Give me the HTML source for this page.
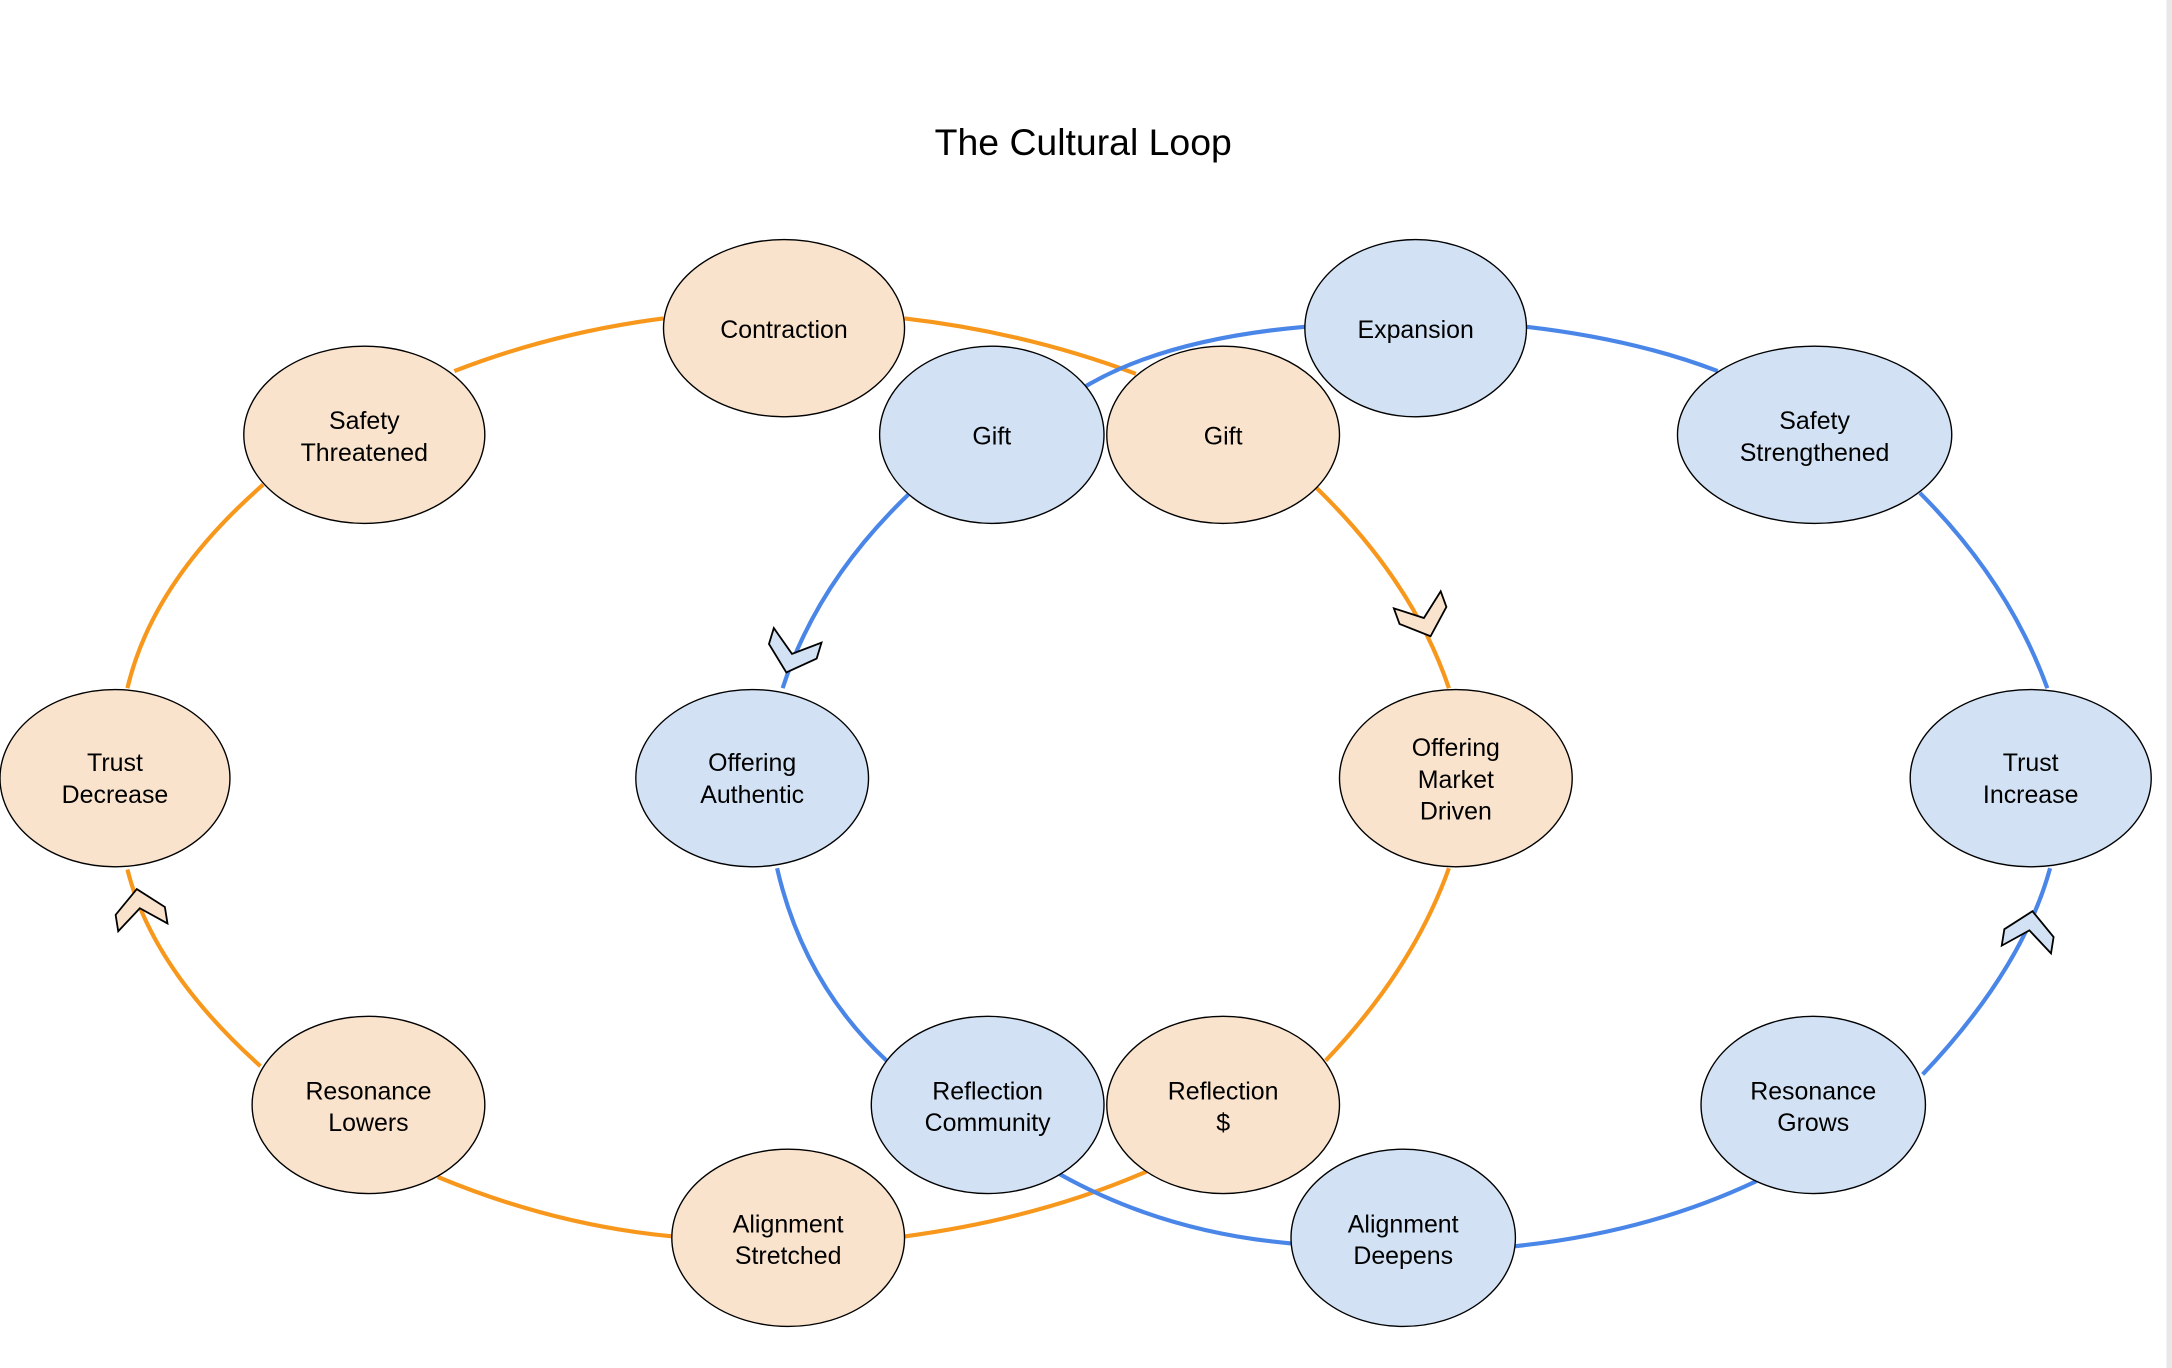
<!DOCTYPE html>
<html><head><meta charset="utf-8"><style>
html,body{margin:0;padding:0;background:#fff;}
svg{display:block;}
text{font-family:"Liberation Sans",sans-serif;fill:#000;}
</style></head><body>
<svg width="2172" height="1368" viewBox="0 0 1568 988" preserveAspectRatio="none" xmlns="http://www.w3.org/2000/svg">
<rect x="1564" y="0" width="4" height="988" fill="#e8e8e8"/>
<text x="782" y="112" font-size="27" text-anchor="middle">The Cultural Loop</text>
<g fill="none" stroke-width="3">
<g stroke="#f7981d">
<path d="M479,230 Q400,240 328,268"/>
<path d="M190,350 Q110,420 92,497"/>
<path d="M188,770 Q110,700 92,628"/>
<path d="M316,850 Q400,885 486,893"/>
<path d="M653,893 Q750,880 828,846"/>
<path d="M957,766 Q1020,700 1046,627"/>
<path d="M950,352 Q1020,420 1046,497"/>
<path d="M653,230 Q740,240 820,270"/>
</g>
<g stroke="#4a86e8">
<path d="M942,236 Q840,245 782,280"/>
<path d="M1102,236 Q1180,245 1240,268"/>
<path d="M1386,356 Q1450,420 1478,497"/>
<path d="M1388,776 Q1460,700 1480,627"/>
<path d="M1094,900 Q1190,890 1268,853"/>
<path d="M765,848 Q840,890 932,898"/>
<path d="M561,627 Q580,710 640,766"/>
<path d="M656,357 Q590,420 565,497"/>
</g>
</g>
<g stroke="#000" stroke-width="1.3" stroke-linejoin="miter">
<polygon points="-18,-20 0,-6 18,-20 18,-8 0,8 -18,-8" fill="#d2e2f4" transform="translate(570,478) rotate(17)"/>
<polygon points="-18,-20 0,-6 18,-20 18,-8 0,8 -18,-8" fill="#fae3cc" transform="translate(1030,452) rotate(-20)"/>
<polygon points="-18,-20 0,-6 18,-20 18,-8 0,8 -18,-8" fill="#fae3cc" transform="translate(100,650) rotate(171)"/>
<polygon points="-18,-20 0,-6 18,-20 18,-8 0,8 -18,-8" fill="#d2e2f4" transform="translate(1466,666) rotate(189)"/>
</g>
<g stroke="#000" stroke-width="1">
<ellipse cx="566" cy="237" rx="87" ry="64" fill="#fae3cc"/>
<ellipse cx="1022" cy="237" rx="80" ry="64" fill="#d2e2f4"/>
<ellipse cx="263" cy="314" rx="87" ry="64" fill="#fae3cc"/>
<ellipse cx="1310" cy="314" rx="99" ry="64" fill="#d2e2f4"/>
<ellipse cx="716" cy="314" rx="81" ry="64" fill="#d2e2f4"/>
<ellipse cx="883" cy="314" rx="84" ry="64" fill="#fae3cc"/>
<ellipse cx="83" cy="562" rx="83" ry="64" fill="#fae3cc"/>
<ellipse cx="543" cy="562" rx="84" ry="64" fill="#d2e2f4"/>
<ellipse cx="1051" cy="562" rx="84" ry="64" fill="#fae3cc"/>
<ellipse cx="1466" cy="562" rx="87" ry="64" fill="#d2e2f4"/>
<ellipse cx="266" cy="798" rx="84" ry="64" fill="#fae3cc"/>
<ellipse cx="713" cy="798" rx="84" ry="64" fill="#d2e2f4"/>
<ellipse cx="883" cy="798" rx="84" ry="64" fill="#fae3cc"/>
<ellipse cx="1309" cy="798" rx="81" ry="64" fill="#d2e2f4"/>
<ellipse cx="569" cy="894" rx="84" ry="64" fill="#fae3cc"/>
<ellipse cx="1013" cy="894" rx="81" ry="64" fill="#d2e2f4"/>
</g>
<g font-size="18" text-anchor="middle">
<text x="566" y="244">Contraction</text>
<text x="1022" y="244">Expansion</text>
<text x="263" y="310">Safety</text><text x="263" y="333">Threatened</text>
<text x="1310" y="310">Safety</text><text x="1310" y="333">Strengthened</text>
<text x="716" y="321">Gift</text>
<text x="883" y="321">Gift</text>
<text x="83" y="557">Trust</text><text x="83" y="580">Decrease</text>
<text x="543" y="557">Offering</text><text x="543" y="580">Authentic</text>
<text x="1051" y="546">Offering</text><text x="1051" y="569">Market</text><text x="1051" y="592">Driven</text>
<text x="1466" y="557">Trust</text><text x="1466" y="580">Increase</text>
<text x="266" y="794">Resonance</text><text x="266" y="817">Lowers</text>
<text x="713" y="794">Reflection</text><text x="713" y="817">Community</text>
<text x="883" y="794">Reflection</text><text x="883" y="817">$</text>
<text x="1309" y="794">Resonance</text><text x="1309" y="817">Grows</text>
<text x="569" y="890">Alignment</text><text x="569" y="913">Stretched</text>
<text x="1013" y="890">Alignment</text><text x="1013" y="913">Deepens</text>
</g>
</svg>
</body></html>
